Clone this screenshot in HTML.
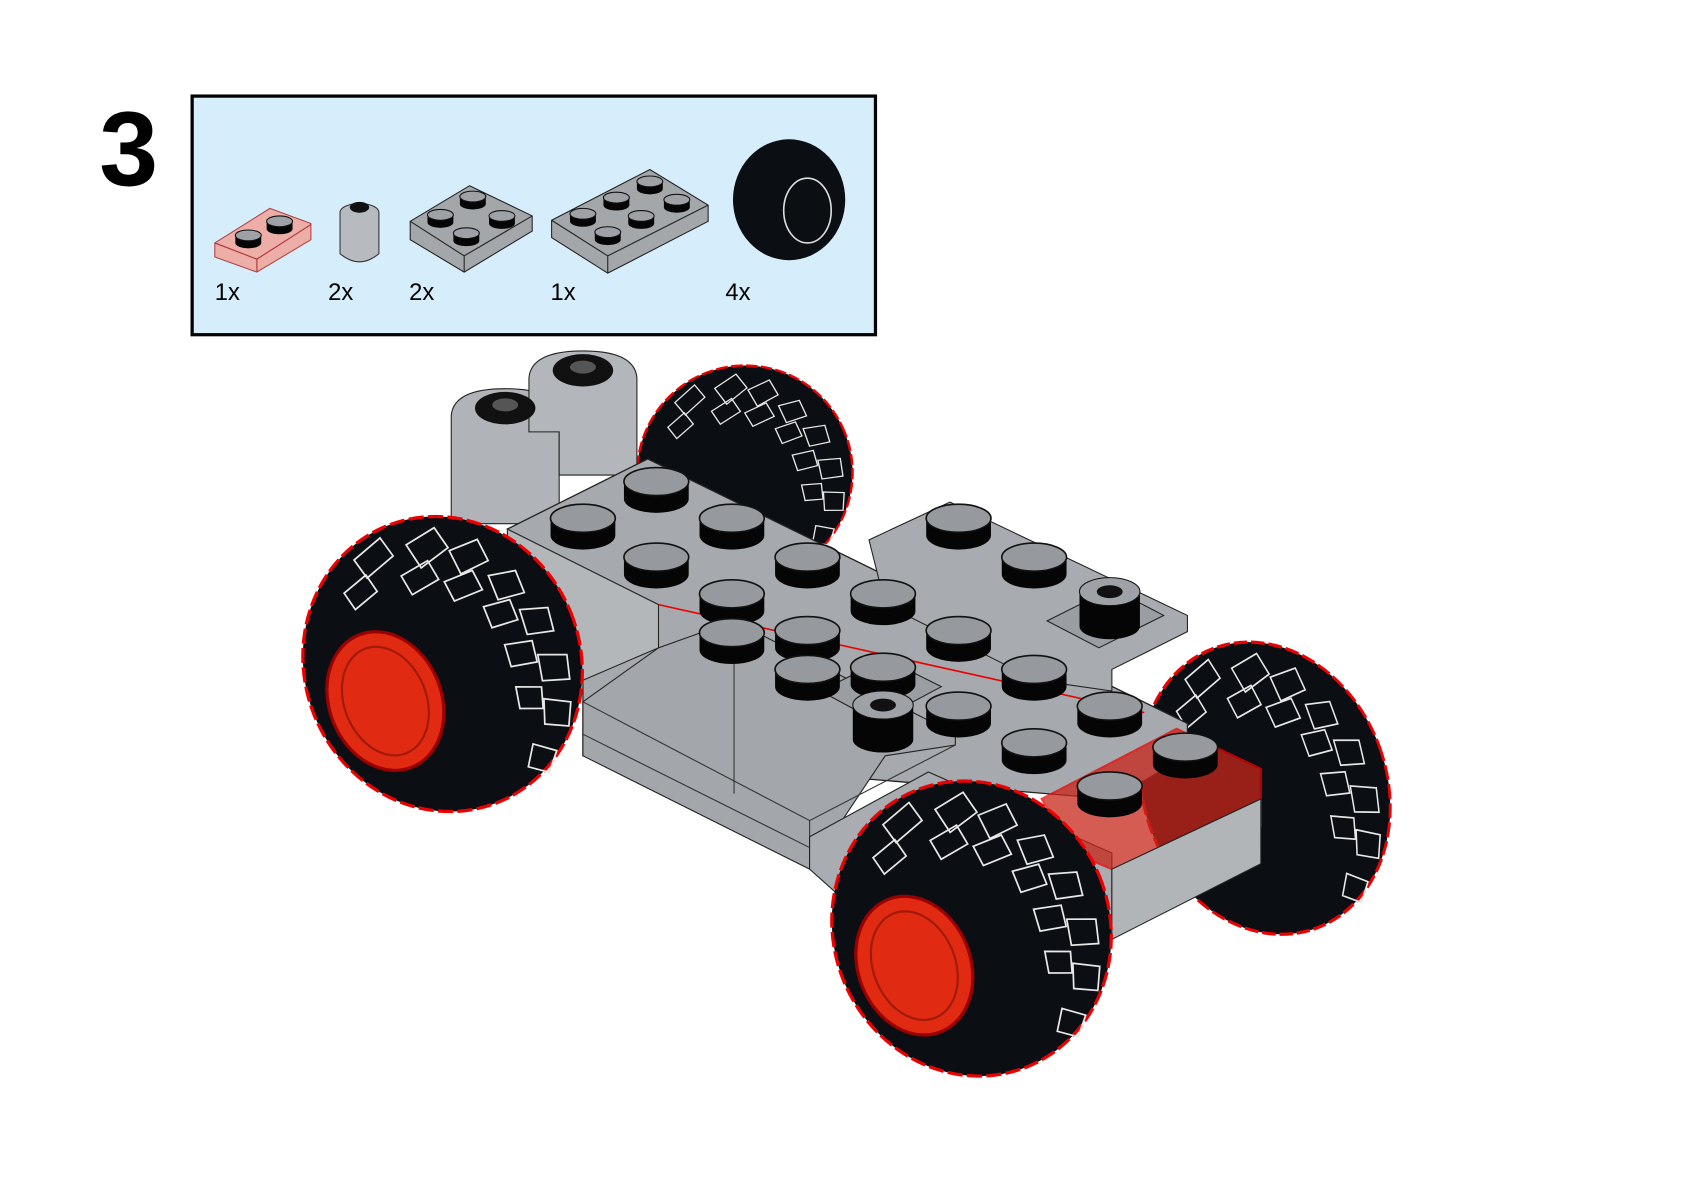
<!DOCTYPE html>
<html><head><meta charset="utf-8"><style>
html,body{margin:0;padding:0;background:#fff;width:1684px;height:1192px;overflow:hidden}
svg{display:block}
text{font-family:"Liberation Sans",sans-serif}
</style></head><body>
<svg width="1684" height="1192" viewBox="0 0 1560 1104" preserveAspectRatio="none" xmlns="http://www.w3.org/2000/svg">
<defs>
<g id="stud"><path d="M-30,0 L-30,16 A30,13 0 0 0 30,16 L30,0 Z" fill="#050505"/><ellipse cx="0" cy="0" rx="30" ry="13" fill="#96999d" stroke="#111" stroke-width="1.5"/></g>
<g id="sstud"><path d="M-12,0 L-12,7 A12,5 0 0 0 12,7 L12,0 Z" fill="#050505"/><ellipse cx="0" cy="0" rx="12" ry="5" fill="#9ea2a6" stroke="#111"/></g>
<g id="tire">
<ellipse cx="0" cy="0" rx="128" ry="138" fill="#0b0f14" stroke="#e00" stroke-width="3" stroke-dasharray="14 4"/>
<g stroke="#e8e8e8" stroke-width="1.6" fill="none">
<path d="M-40,-120 l30,-10 l5,20 l-30,10z M10,-115 l30,-5 l5,22 l-30,8z M45,-95 l28,0 l2,22 l-28,2z M70,-60 l25,5 l0,22 l-25,-3z M85,-20 l25,8 l-3,22 l-24,-6z M85,25 l25,10 l-6,22 l-24,-8z M75,65 l22,12 l-10,20 l-20,-10z M50,100 l18,14 l-14,16 l-16,-12z"/>
<path d="M-60,-95 l25,-8 l4,18 l-25,8z M-5,-90 l28,-4 l3,20 l-28,4z M30,-70 l28,0 l2,20 l-28,0z M55,-35 l25,3 l0,20 l-25,-2z M60,5 l25,6 l-3,20 l-24,-5z M55,45 l22,9 l-6,19 l-20,-8z"/>
</g></g>
</defs>

<text x="92" y="172" font-size="98" font-weight="bold" fill="#000">3</text>
<rect x="178" y="89" width="633" height="221" fill="#d6edfc" stroke="#000" stroke-width="3"/>
<g>
<path d="M199,225 L250,193 L288,207 L288,222 L238,252 L199,238Z" fill="#f0a8a0" stroke="#a33" stroke-width="1" opacity=".9"/>
<path d="M199,225 L238,240 L288,208 M238,240 L238,252" stroke="#a33" fill="none"/>
<use href="#sstud" x="230" y="218"/><use href="#sstud" x="259" y="205"/>
<path d="M315,198 Q314,190 333,188 Q352,190 351,198 L351,235 Q333,250 315,235Z" fill="#b7bbbf" stroke="#333"/>
<ellipse cx="333" cy="192" rx="9" ry="5" fill="#111"/>
<path d="M380,205 L435,172 L493,200 L493,214 L430,252 L380,222Z" fill="#a4a7aa" stroke="#222"/>
<path d="M380,205 L430,237 L493,200 M430,237 L430,252" stroke="#222" fill="none"/>
<use href="#sstud" x="408" y="199"/><use href="#sstud" x="438" y="182"/><use href="#sstud" x="465" y="200"/><use href="#sstud" x="432" y="216"/>
<path d="M511,204 L602,157 L656,190 L656,205 L563,253 L511,220Z" fill="#a4a7aa" stroke="#222"/>
<path d="M511,204 L563,237 L656,190 M563,237 L563,253" stroke="#222" fill="none"/>
<use href="#sstud" x="540" y="198"/><use href="#sstud" x="571" y="183"/><use href="#sstud" x="602" y="168"/><use href="#sstud" x="563" y="215"/><use href="#sstud" x="594" y="200"/><use href="#sstud" x="627" y="185"/>
<ellipse cx="731" cy="185" rx="52" ry="56" fill="#0b0f14"/>
<ellipse cx="748" cy="195" rx="22" ry="30" fill="none" stroke="#ddd" stroke-width="1.5"/>
<text x="199" y="278" font-size="22">1x</text><text x="304" y="278" font-size="22">2x</text><text x="379" y="278" font-size="22">2x</text><text x="510" y="278" font-size="22">1x</text><text x="672" y="278" font-size="22">4x</text>
</g>

<g transform="translate(690,438) rotate(-25) scale(0.78,0.72)"><use href="#tire"/></g>
<g transform="translate(1172,730) rotate(-20) scale(0.88,1)"><use href="#tire"/></g>

<path d="M418,385 Q420,360 468,360 Q516,360 518,385 L518,485 L418,485Z" fill="#b0b4b8" stroke="#222"/>
<path d="M490,350 Q492,325 540,325 Q588,325 590,350 L590,440 L518,440 L518,400 L490,400Z" fill="#b3b7bb" stroke="#222"/>
<ellipse cx="468" cy="378" rx="28" ry="15" fill="#111"/><ellipse cx="468" cy="375" rx="12" ry="6" fill="#555"/>
<ellipse cx="540" cy="343" rx="28" ry="15" fill="#111"/><ellipse cx="540" cy="340" rx="12" ry="6" fill="#555"/>

<path d="M470,490 L600,425 L1100,670 L1100,700 L1030,740 L540,700 L540,620 Z" fill="#a6a9ad" stroke="#222" stroke-width="1.2"/>
<path d="M805,500 L880,465 L1100,570 L1100,585 L1030,620 L1030,640 L960,630 L820,560Z" fill="#a8abaf" stroke="#222"/>
<path d="M970,575 L1030,545 L1078,570 L1018,600Z" fill="#9a9da1" stroke="#222"/>
<path d="M470,490 L610,560 L610,600 L540,630 L470,560Z" fill="#b4b7ba" stroke="#222"/>
<path d="M540,650 L610,600 L680,575 L885,680 L885,690 L820,700 L750,805 L540,700Z" fill="#a3a6aa" stroke="#222"/>
<path d="M540,650 L750,760 L750,805 M680,575 L680,735 M540,680 L750,785 M750,760 L885,690" stroke="#333" fill="none"/>
<path d="M750,775 L860,715 L1030,790 L1030,870 L890,930 L750,805Z" fill="#a9acb0" stroke="#222"/>
<path d="M760,640 L820,610 L872,636 L812,668Z" fill="#9a9da1" stroke="#222"/>
<path d="M610,560 L1060,660" stroke="#e00" stroke-width="1.5" fill="none"/>

<g>
<use href="#stud" x="608" y="446"/><use href="#stud" x="540" y="480"/><use href="#stud" x="678" y="480"/><use href="#stud" x="608" y="516"/>
<use href="#stud" x="748" y="516"/><use href="#stud" x="888" y="480"/><use href="#stud" x="958" y="516"/>
<use href="#stud" x="678" y="550"/><use href="#stud" x="818" y="550"/><use href="#stud" x="748" y="584"/><use href="#stud" x="888" y="584"/>
<use href="#stud" x="678" y="586"/><use href="#stud" x="818" y="618"/><use href="#stud" x="748" y="620"/><use href="#stud" x="958" y="620"/>
<use href="#stud" x="888" y="654"/><use href="#stud" x="1028" y="654"/><use href="#stud" x="958" y="688"/>
</g>
<g><path d="M1000,550 L1000,580 A28,12 0 0 0 1056,580 L1056,550Z" fill="#050505"/><ellipse cx="1028" cy="548" rx="28" ry="13" fill="#9ea2a6" stroke="#111"/><ellipse cx="1028" cy="548" rx="12" ry="6" fill="#111"/></g>
<g><path d="M790,655 L790,685 A28,12 0 0 0 846,685 L846,655Z" fill="#050505"/><ellipse cx="818" cy="653" rx="28" ry="13" fill="#9ea2a6" stroke="#111"/><ellipse cx="818" cy="653" rx="12" ry="6" fill="#111"/></g>

<path d="M965,740 L1090,675 L1168,712 L1168,765 L1030,805 L995,790Z" fill="#c8261a" opacity=".75" stroke="#e00" stroke-width="2"/>
<path d="M1030,805 L1168,740 L1168,800 L1030,870Z" fill="#b2b5b8" stroke="#222"/>
<use href="#stud" x="1028" y="728"/><use href="#stud" x="1098" y="692"/>

<g transform="translate(410,615) rotate(-22)"><use href="#tire"/>
<ellipse cx="-62" cy="12" rx="52" ry="66" fill="#e12a12" stroke="#900" stroke-width="3"/>
<ellipse cx="-62" cy="12" rx="38" ry="52" fill="none" stroke="#a01a08" stroke-width="2"/></g>
<g transform="translate(900,860) rotate(-22)"><use href="#tire"/>
<ellipse cx="-62" cy="12" rx="52" ry="66" fill="#e12a12" stroke="#900" stroke-width="3"/>
<ellipse cx="-62" cy="12" rx="38" ry="52" fill="none" stroke="#a01a08" stroke-width="2"/></g>
</svg>
</body></html>
